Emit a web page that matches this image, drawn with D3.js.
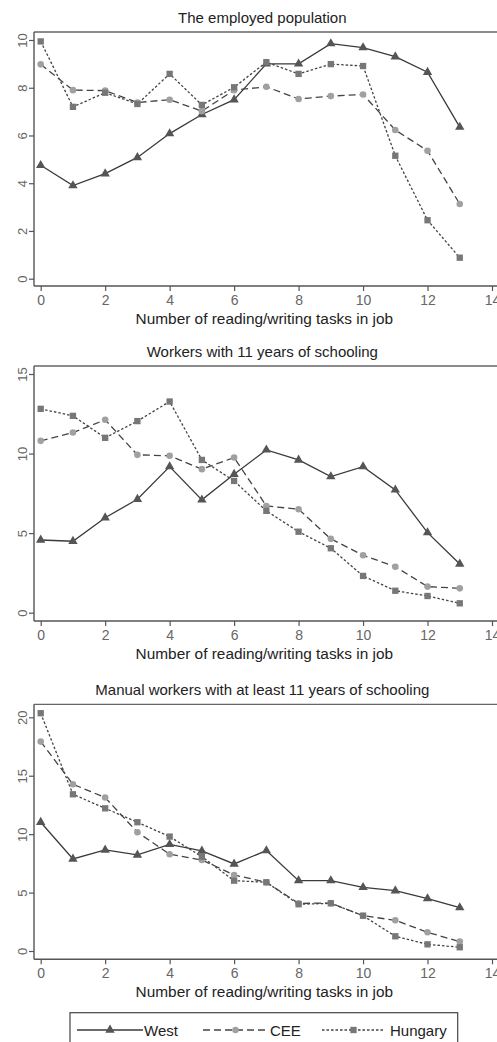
<!DOCTYPE html>
<html>
<head>
<meta charset="utf-8">
<script src="https://cdn.jsdelivr.net/npm/d3@7"></script>
<style>
  html, body { margin: 0; padding: 0; background: #fff; }
  svg { display: block; font-family: "Liberation Sans", Arial, sans-serif; }
</style>
</head>
<body>
<div id="chart"></div>
<script>
const tasks = [0, 1, 2, 3, 4, 5, 6, 7, 8, 9, 10, 11, 12, 13];
const xTicks = [0, 2, 4, 6, 8, 10, 12, 14];
const xTitle = 'Number of reading/writing tasks in job';

const panelTitles = [
  'The employed population',
  'Workers with 11 years of schooling',
  'Manual workers with at least 11 years of schooling'
];
const yTicks = [
  [0, 2, 4, 6, 8, 10],
  [0, 5, 10, 15],
  [0, 5, 10, 15, 20]
];

const seriesNames = ['West', 'CEE', 'Hungary'];

// the employed population
const west1 = [4.75, 3.9, 4.4, 5.08, 6.08, 6.88, 7.5, 9.0, 9.0, 9.85, 9.68, 9.3, 8.65, 6.35];
const cee1 = [8.98, 7.9, 7.88, 7.38, 7.5, 7.02, 7.9, 8.04, 7.53, 7.65, 7.72, 6.23, 5.36, 3.13];
const hun1 = [9.94, 7.2, 7.79, 7.32, 8.58, 7.28, 8.02, 9.07, 8.58, 8.99, 8.91, 5.15, 2.45, 0.88];

// workers with 11 years of schooling
const west2 = [4.57, 4.49, 5.97, 7.13, 9.18, 7.09, 8.7, 10.23, 9.6, 8.55, 9.18, 7.72, 5.03, 3.06];
const cee2 = [10.8, 11.32, 12.12, 9.92, 9.86, 9.02, 9.75, 6.71, 6.5, 4.64, 3.61, 2.89, 1.64, 1.53];
const hun2 = [12.81, 12.37, 10.99, 12.04, 13.27, 9.6, 8.28, 6.4, 5.09, 4.05, 2.31, 1.38, 1.05, 0.59];

// manual workers with at least 11 years of schooling
const west3 = [11.02, 7.88, 8.65, 8.22, 9.13, 8.56, 7.45, 8.59, 6.02, 6.02, 5.45, 5.16, 4.48, 3.71];
const cee3 = [17.92, 14.27, 13.13, 10.16, 8.28, 7.79, 6.51, 5.88, 4.08, 4.1, 3.02, 2.63, 1.6, 0.8];
const hun3 = [20.35, 13.41, 12.21, 11.02, 9.79, 8.07, 6.02, 5.88, 4.0, 4.08, 3.02, 1.26, 0.57, 0.32];

const panelData = [
  [west1, cee1, hun1],
  [west2, cee2, hun2],
  [west3, cee3, hun3]
];

const WIDTH = 497;
const HEIGHT = 1042;
const AXIS_X = 34;

// frame top, bottom axis, pixel of zero tick and of the top tick
const panels = [
  { top: 32, bottom: 286, y0: 278.7, y1: 40, max: 10 },
  { top: 366, bottom: 621, y0: 612.7, y1: 374, max: 15 },
  { top: 704.3, bottom: 959.3, y0: 951, y1: 717.3, max: 20 }
];

const styles = [
  { stroke: '#3a3a3a', dash: null, fill: '#555', shape: d3.symbolTriangle, size: 38 },
  { stroke: '#444', dash: '7,4', fill: '#a0a0a0', shape: d3.symbolCircle, size: 34 },
  { stroke: '#444', dash: '2.5,2', fill: '#777', shape: d3.symbolSquare, size: 40 }
];

const x = d3.scaleLinear().domain([0, 14]).range([40.7, 492]);

const svg = d3.select('#chart')
  .append('svg')
  .attr('width', WIDTH)
  .attr('height', HEIGHT);

panels.forEach((p, i) => {
  const y = d3.scaleLinear().domain([0, p.max]).range([p.y0, p.y1]);
  const g = svg.append('g');

  g.append('text')
    .attr('x', (x(0) + x(14)) / 2 - 4)
    .attr('y', p.top - 9)
    .attr('text-anchor', 'middle')
    .attr('font-size', 15)
    .attr('fill', '#222')
    .text(panelTitles[i]);

  // frame lines
  g.append('line')
    .attr('x1', AXIS_X).attr('x2', WIDTH)
    .attr('y1', p.top).attr('y2', p.top)
    .attr('stroke', '#666').attr('stroke-width', 1.3);

  const yAxis = g.append('g')
    .attr('transform', `translate(${AXIS_X},0)`)
    .call(d3.axisLeft(y).tickValues(yTicks[i]).tickSize(5).tickPadding(7).tickSizeOuter(0));
  yAxis.select('.domain').remove();
  yAxis.append('line')
    .attr('x1', 0).attr('x2', 0)
    .attr('y1', p.top).attr('y2', p.bottom)
    .attr('stroke', '#555').attr('stroke-width', 1.4);
  yAxis.selectAll('.tick line').attr('stroke', '#555').attr('stroke-width', 1.2);
  yAxis.selectAll('.tick text')
    .attr('font-size', 13)
    .attr('fill', '#666')
    .attr('text-anchor', 'middle')
    .attr('dy', 0)
    .attr('x', 0)
    .attr('transform', 'translate(-7,0) rotate(-90)');

  const xAxis = g.append('g')
    .attr('transform', `translate(0,${p.bottom})`)
    .call(d3.axisBottom(x).tickValues(xTicks).tickSize(5).tickPadding(4).tickSizeOuter(0));
  xAxis.select('.domain').remove();
  xAxis.append('line')
    .attr('x1', AXIS_X).attr('x2', WIDTH)
    .attr('y1', 0).attr('y2', 0)
    .attr('stroke', '#555').attr('stroke-width', 1.4);
  xAxis.selectAll('.tick line').attr('stroke', '#555').attr('stroke-width', 1.2);
  xAxis.selectAll('.tick text')
    .attr('font-size', 14)
    .attr('fill', '#666');

  g.append('text')
    .attr('x', (x(0) + x(14)) / 2 - 2)
    .attr('y', p.bottom + 38)
    .attr('text-anchor', 'middle')
    .attr('font-size', 15.4)
    .attr('fill', '#222')
    .text(xTitle);

  const line = d3.line()
    .x((d, k) => x(tasks[k]))
    .y(d => y(d));

  panelData[i].forEach((vals, s) => {
    const st = styles[s];
    g.append('path')
      .datum(vals)
      .attr('d', line)
      .attr('fill', 'none')
      .attr('stroke', st.stroke)
      .attr('stroke-width', 1.3)
      .attr('stroke-dasharray', st.dash);
  });

  panelData[i].forEach((vals, s) => {
    const st = styles[s];
    g.append('g')
      .selectAll('path')
      .data(vals)
      .join('path')
      .attr('transform', (d, k) => `translate(${x(tasks[k])},${y(d)})`)
      .attr('d', d3.symbol().type(st.shape).size(st.size))
      .attr('fill', st.fill);
  });
});

// legend
const legend = svg.append('g');
legend.append('rect')
  .attr('x', 70).attr('y', 1012.7)
  .attr('width', 387.7).attr('height', 40)
  .attr('fill', '#fff')
  .attr('stroke', '#444')
  .attr('stroke-width', 1.2);

const legendItems = [
  { x1: 77, x2: 143, tx: 144 },
  { x1: 203, x2: 268, tx: 270 },
  { x1: 322, x2: 385, tx: 390 }
];
const LEGEND_Y = 1030;

seriesNames.forEach((name, s) => {
  const st = styles[s];
  const it = legendItems[s];
  legend.append('line')
    .attr('x1', it.x1).attr('x2', it.x2)
    .attr('y1', LEGEND_Y).attr('y2', LEGEND_Y)
    .attr('stroke', st.stroke)
    .attr('stroke-width', 1.3)
    .attr('stroke-dasharray', st.dash);
  legend.append('path')
    .attr('transform', `translate(${(it.x1 + it.x2) / 2},${LEGEND_Y})`)
    .attr('d', d3.symbol().type(st.shape).size(st.size))
    .attr('fill', st.fill);
  legend.append('text')
    .attr('x', it.tx)
    .attr('y', LEGEND_Y + 5.5)
    .attr('font-size', 15)
    .attr('fill', '#222')
    .text(name);
});
</script>
</body>
</html>
